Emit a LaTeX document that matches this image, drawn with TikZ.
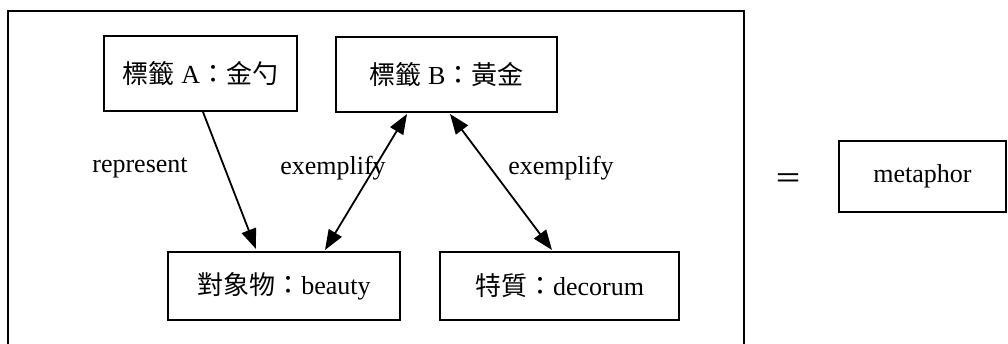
\documentclass[tikz,border=0pt]{standalone}
\usepackage{fontspec}
\setmainfont{Liberation Serif}
\newfontfamily\cjk{Noto Sans CJK TC}
\usetikzlibrary{arrows.meta}
\begin{document}
\begin{tikzpicture}[x=1pt,y=-1pt,
  every node/.style={font=\fontsize{26}{30}\selectfont, inner sep=0pt},
  termbox/.style={draw, line width=2pt, minimum height=#1},
  rel/.style={line width=1.8pt, -{Triangle[length=20pt,width=15pt]}},
  birel/.style={line width=1.8pt, {Triangle[length=20pt,width=15pt]}-{Triangle[length=20pt,width=15pt]}},
  lbl/.style={anchor=center}]
\useasboundingbox (0,0) rectangle (1008,344);

% enclosing frame, open at the bottom edge of the page
\draw[line width=2pt] (8,344) -- (8,11.5) -- (744,11.5) -- (744,344);

% terms
\node[termbox=75pt, minimum width=193pt] (A) at (200.5,73.5) {{\cjk 標籤} A{\cjk ：金勺}};
\node[termbox=75pt, minimum width=221pt] (B) at (446.5,74.5) {{\cjk 標籤} B{\cjk ：黃金}};
\node[termbox=68pt, minimum width=232pt] (obj) at (284,286) {{\cjk 對象物：}beauty};
\node[termbox=68pt, minimum width=239pt] (prop) at (559.5,286) {{\cjk 特質：}decorum};
\node[termbox=71pt, minimum width=167pt] (met) at (922.5,176.5) {metaphor};

% relations
\draw[rel] ([xshift=2.5pt]A.south) -- ([xshift=-28pt,yshift=2pt]obj.north);
\draw[birel] ([xshift=41pt,yshift=1pt]obj.north) -- ([xshift=-39.5pt,yshift=-1pt]B.south);
\draw[birel] ([xshift=3.5pt,yshift=-1pt]B.south) -- ([xshift=-7.5pt,yshift=1pt]prop.north);

% relation labels
\node[lbl] (l1) at (140,168) {represent};
\node[lbl] (l2) at (333,168) {exemplify};
\node[lbl] (l3) at (561,168) {exemplify};

% equality sign
\node[font=\fontsize{28}{30}\selectfont] (eq) at (788,181) {\cjk ＝};
\end{tikzpicture}
\end{document}
